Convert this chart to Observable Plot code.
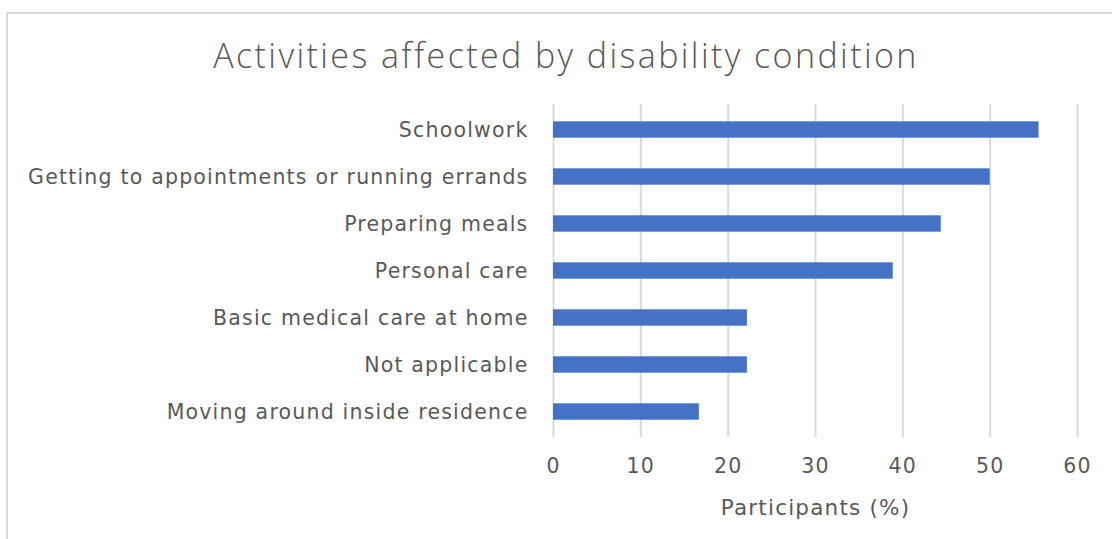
<!DOCTYPE html>
<html>
<head>
<meta charset="utf-8">
<script src="https://cdn.jsdelivr.net/npm/d3@7"></script>
<script src="https://cdn.jsdelivr.net/npm/@observablehq/plot@0.6"></script>
<style>
  html, body { margin: 0; padding: 0; background: #fff; }
  #wrap { position: relative; width: 1112px; height: 539px; overflow: hidden; }
  #border { position: absolute; left: 6px; top: 12px; width: 1200px; height: 700px;
            border-top: 2.5px solid #d9d9d9; border-left: 2.5px solid #d9d9d9; pointer-events: none; }
  #title { height: 90px; box-sizing: border-box; padding-top: 37px; line-height: 36px;
           text-align: center; font-family: "Open Sans", sans-serif; font-weight: 300;
           font-size: 34px; letter-spacing: 2.4px; color: #595959; padding-left: 20px; }
  svg text { letter-spacing: 1.2px; }
</style>
</head>
<body>
<div id="wrap">
  <div id="border"></div>
  <div id="title">Activities affected by disability condition</div>
  <div id="chart"></div>
</div>
<script>
const categories = [
  "Schoolwork",
  "Getting to appointments or running errands",
  "Preparing meals",
  "Personal care",
  "Basic medical care at home",
  "Not applicable",
  "Moving around inside residence"
];
const values = [55.6, 50.0, 44.4, 38.9, 22.2, 22.2, 16.7];
const xTicks = [0, 10, 20, 30, 40, 50, 60];
const xLabel = "Participants (%)";

const data = categories.map((c, i) => ({category: c, value: values[i]}));

const chart = Plot.plot({
  width: 1112,
  height: 449,
  marginLeft: 553,
  marginRight: 35,
  marginTop: 14,
  marginBottom: 102,
  style: {fontFamily: "DejaVu Sans, sans-serif", fontSize: "20px", color: "#595959", background: "transparent"},
  x: {domain: [0, 60], ticks: xTicks, label: null},
  y: {domain: categories, padding: 0, label: null},
  marks: [
    Plot.ruleX(xTicks, {stroke: "#d9d9d9", strokeWidth: 2}),
    Plot.barX(data, {x: "value", y: "category", fill: "#4472C4", insetTop: 15.3, insetBottom: 15.3}),
    Plot.axisX({ticks: xTicks, tickSize: 0, tickPadding: 21, label: null, fontSize: 20.5, fill: "#595959"}),
    Plot.axisY({tickSize: 0, tickPadding: 25, label: null, fontSize: 20.5, fill: "#595959"}),
    Plot.text([xLabel], {frameAnchor: "bottom", dy: 77, fontSize: 21.5, fill: "#595959"})
  ]
});
document.getElementById("chart").appendChild(chart);
</script>
</body>
</html>
